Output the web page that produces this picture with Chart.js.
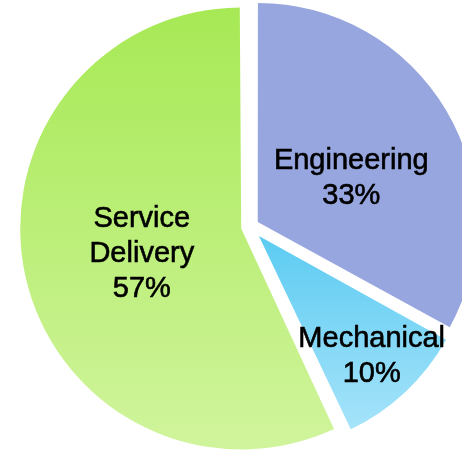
<!DOCTYPE html>
<html>
<head>
<meta charset="utf-8">
<script src="https://cdn.jsdelivr.net/npm/chart.js@4/dist/chart.umd.min.js"></script>
<style>
  html, body { margin: 0; padding: 0; background: #fff; overflow: hidden; }
  #wrap { position: absolute; left: 0; top: 0; width: 500px; height: 453px; }
</style>
</head>
<body>
<div id="wrap"><canvas id="pieChart" width="500" height="453"></canvas></div>
<script>
// slice order runs clockwise from 12 o'clock
const categories = ["Engineering", "Mechanical", "Service Delivery"];
const shares = [33, 10, 57];

// explode distance per slice (chart.js moves a slice by offset / 4)
const sliceOffsets = [36, 52, 36];
// drawn radius of each slice in px
const sliceRadii = [219, 214, 221];
// where the label sits: share of the slice's sweep, share of the radius
const labelSweep = [0.55, 0.5, 0.49];
const labelDepth = [0.47, 0.77, 0.465];

function sliceFill(context) {
    const chart = context.chart;
    const area = chart.chartArea;
    if (!area) return "#ccc";
    const cy = (area.top + area.bottom) / 2;
    const ctx = chart.ctx;
    if (context.dataIndex === 0) return "#97a6de";
    if (context.dataIndex === 1) {
        const g = ctx.createLinearGradient(0, cy, 0, cy + 200);
        g.addColorStop(0, "#5ccbf2");
        g.addColorStop(1, "#a8e4fa");
        return g;
    }
    const g = ctx.createLinearGradient(0, cy - 220, 0, cy + 220);
    g.addColorStop(0, "#a7e955");
    g.addColorStop(1, "#d0f49c");
    return g;
}

// give each exploded slice its own radius
const sliceRadius = {
    id: "sliceRadius",
    beforeDatasetsDraw(chart) {
        chart.getDatasetMeta(0).data.forEach((arc, i) => {
            const circ = arc.endAngle - arc.startAngle;
            const fix = 1 - Math.sin(Math.min(Math.PI, circ));
            arc.outerRadius = sliceRadii[i] - (sliceOffsets[i] / 4) * fix;
        });
    }
};

const sliceLabels = {
    id: "sliceLabels",
    afterDatasetsDraw(chart) {
        const ctx = chart.ctx;
        const meta = chart.getDatasetMeta(0);
        ctx.save();
        ctx.font = '29px "Liberation Sans", Arial, sans-serif';
        ctx.fillStyle = "#000";
        ctx.strokeStyle = "#000";
        ctx.lineWidth = 0.6;
        ctx.textAlign = "center";
        ctx.textBaseline = "middle";
        meta.data.forEach((arc, i) => {
            const mid = (arc.startAngle + arc.endAngle) / 2;
            const t = sliceOffsets[i] / 4;
            const vx = arc.x + Math.cos(mid) * t;
            const vy = arc.y + Math.sin(mid) * t;
            const a = arc.startAngle + labelSweep[i] * (arc.endAngle - arc.startAngle);
            const d = labelDepth[i] * sliceRadii[i];
            const x = vx + Math.cos(a) * d;
            const y = vy + Math.sin(a) * d;
            const lines = categories[i].split(" ").concat([shares[i] + "%"]);
            const lh = 35;
            lines.forEach((line, k) => {
                const ly = y + (k - (lines.length - 1) / 2) * lh;
                ctx.fillText(line, x, ly);
                ctx.strokeText(line, x, ly);
            });
        });
        ctx.restore();
    }
};

new Chart(document.getElementById("pieChart"), {
    type: "pie",
    data: {
        labels: categories,
        datasets: [{
            data: shares,
            backgroundColor: sliceFill,
            borderWidth: 0,
            offset: sliceOffsets,
        }],
    },
    options: {
        responsive: false,
        animation: false,
        layout: { padding: 0 },
        plugins: {
            legend: { display: false },
            tooltip: { enabled: false },
        },
    },
    plugins: [sliceRadius, sliceLabels],
});
</script>
</body>
</html>
